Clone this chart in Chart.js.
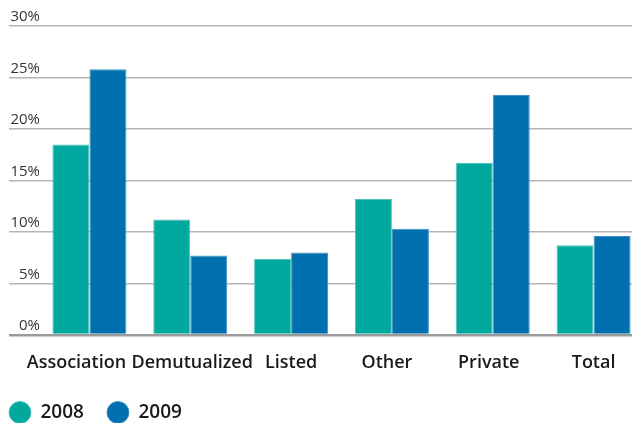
<!DOCTYPE html>
<html>
<head>
<meta charset="utf-8">
<script src="https://cdn.jsdelivr.net/npm/chart.js@4"></script>
<style>
  html, body { margin: 0; padding: 0; background: #fff; overflow: hidden; }
  /* a little wider than the window so the last bar runs to the edge */
  #wrap { width: 644px; height: 423px; }
</style>
</head>
<body>
<div id="wrap"><canvas id="myChart"></canvas></div>
<script>
const ctx = document.getElementById("myChart");

const categories = ["Association", "Demutualized", "Listed", "Other", "Private", "Total"];
const values2008 = [18.5, 11.2, 7.4, 13.2, 16.7, 8.7];
const values2009 = [25.8, 7.7, 8.0, 10.3, 23.3, 9.6];
const yTicks = [0, 5, 10, 15, 20, 25, 30];
// horizontal nudges for crowded category labels
const labelShift = [-13, 2, 0, -5, -4, 0];

const TEAL = "#00a89d";
const BLUE = "#0070ae";

// move individual x labels sideways so neighbours don't run together
const nudgeLabels = {
  id: "nudgeLabels",
  beforeDraw(chart) {
    const items = chart.scales.x.getLabelItems();
    items.forEach((item, i) => {
      item.options.translation[0] += labelShift[i] || 0;
    });
  },
};

new Chart(ctx, {
  type: "bar",
  data: {
    labels: categories,
    datasets: [
      {
        label: "2008",
        data: values2008,
        backgroundColor: TEAL,
        borderColor: "#4fc2ba",
        borderWidth: 1,
        borderSkipped: "bottom",
      },
      {
        label: "2009",
        data: values2009,
        backgroundColor: BLUE,
        borderColor: "#3d93c6",
        borderWidth: 1,
        borderSkipped: "bottom",
      },
    ],
  },
  plugins: [nudgeLabels],
  options: {
    responsive: true,
    maintainAspectRatio: false,
    animation: false,
    layout: {
      padding: { left: -14, right: 0, top: 26, bottom: -9 },
    },
    datasets: {
      bar: { categoryPercentage: 0.734, barPercentage: 1 },
    },
    scales: {
      x: {
        grid: { display: false },
        border: { display: false },
        afterFit: (scale) => {
          // let the legend sit closer to the category labels
          scale.height -= 2.5;
        },
        ticks: {
          padding: 9,
          maxRotation: 0,
          minRotation: 0,
          autoSkip: false,
          color: "#1a1a1a",
          font: { family: "'Open Sans'", size: 18, weight: "600" },
        },
      },
      y: {
        min: 0,
        max: 30,
        afterBuildTicks: (scale) => {
          scale.ticks = yTicks.map((v) => ({ value: v }));
        },
        afterFit: (scale) => {
          scale.width = 53;
        },
        border: { display: false },
        grid: {
          tickLength: 30,
          color: (c) => (c.tick && c.tick.value === 0 ? "#9b9b9b" : "#b5b5b5"),
          lineWidth: (c) => (c.tick && c.tick.value === 0 ? 2.5 : 1.5),
        },
        ticks: {
          padding: -31,
          labelOffset: -9,
          color: "#333",
          font: { family: "'Open Sans'", size: 15 },
          callback: (v) => v + "%",
        },
      },
    },
    plugins: {
      tooltip: { enabled: false },
      legend: {
        position: "bottom",
        align: "start",
        labels: {
          usePointStyle: true,
          pointStyle: "circle",
          pointStyleWidth: 22,
          boxHeight: 15.5,
          padding: 23,
          color: "#1a1a1a",
          font: { family: "'Open Sans'", size: 19, weight: "600" },
        },
      },
    },
  },
});
</script>
</body>
</html>
